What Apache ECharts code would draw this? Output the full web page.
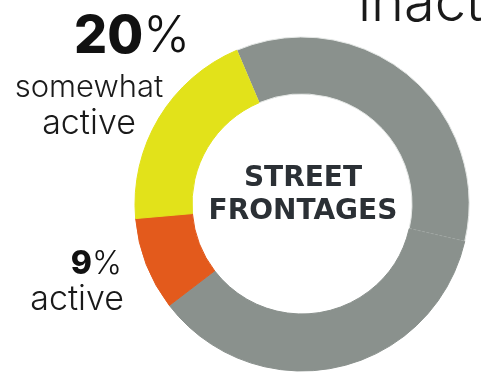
<!DOCTYPE html>
<html>
<head>
<meta charset="utf-8">
<script src="https://cdn.jsdelivr.net/npm/echarts@6/dist/echarts.min.js"></script>
<style>
  html, body { margin: 0; padding: 0; background: #ffffff; }
  #chart { width: 481px; height: 375px; }
</style>
</head>
<body>
<div id="chart"></div>
<script>
// Street frontage activity shares (percent)
const categories = ['inactive', 'inactive (cont.)', 'active', 'somewhat active'];
const shares = [35, 36, 9, 20];
const colors = ['#8a918d', '#8a918d', '#e35a1c', '#e2e21a'];
const centerTitle = ['STREET', 'FRONTAGES'];

const FONT = 'Inter, "Noto Sans", sans-serif';
const chart = echarts.init(document.getElementById('chart'), null, { renderer: 'canvas' });

const data = categories.map((name, i) => ({
  name,
  value: shares[i],
  itemStyle: i === 0
    ? { color: colors[i], borderColor: '#e4e7e5', borderWidth: 1 }
    : { color: colors[i], borderColor: colors[i], borderWidth: 1 }
}));

chart.setOption({
  backgroundColor: '#ffffff',
  animation: false,
  series: [{
    type: 'pie',
    center: [302, 204],
    radius: [110, 167],
    startAngle: 113,
    clockwise: true,
    label: { show: false },
    labelLine: { show: false },
    emphasis: { disabled: true },
    data
  }],
  graphic: [
    {
      type: 'text', left: 358, top: -24,
      style: { text: 'inactive', font: '300 56px ' + FONT, fill: '#1a1a1a' }
    },
    {
      type: 'text', x: 190, y: 63,
      style: {
        text: '{b|' + shares[3] + '}{l|%}', align: 'right', verticalAlign: 'bottom',
        rich: {
          b: { font: '800 52px ' + FONT, fill: '#111111' },
          l: { font: '300 50px ' + FONT, fill: '#111111' }
        }
      }
    },
    {
      type: 'text', x: 89, y: 72,
      style: { text: 'somewhat', align: 'center', font: '300 31px ' + FONT, fill: '#1a1a1a' }
    },
    {
      type: 'text', x: 89, y: 107,
      style: { text: 'active', align: 'center', font: '300 34px ' + FONT, fill: '#1a1a1a' }
    },
    {
      type: 'text', x: 122, y: 280,
      style: {
        text: '{b|' + shares[2] + '}{l|%}', align: 'right', verticalAlign: 'bottom',
        rich: {
          b: { font: '800 32px ' + FONT, fill: '#111111' },
          l: { font: '300 32px ' + FONT, fill: '#111111' }
        }
      }
    },
    {
      type: 'text', x: 124, y: 283,
      style: { text: 'active', align: 'right', font: '300 34px ' + FONT, fill: '#1a1a1a' }
    },
    {
      type: 'text', x: 303, y: 195,
      style: {
        text: centerTitle.join('\n'), align: 'center', verticalAlign: 'middle',
        font: 'bold 28px "DejaVu Sans", sans-serif', lineHeight: 33, fill: '#2b3035'
      }
    }
  ]
});
</script>
</body>
</html>
